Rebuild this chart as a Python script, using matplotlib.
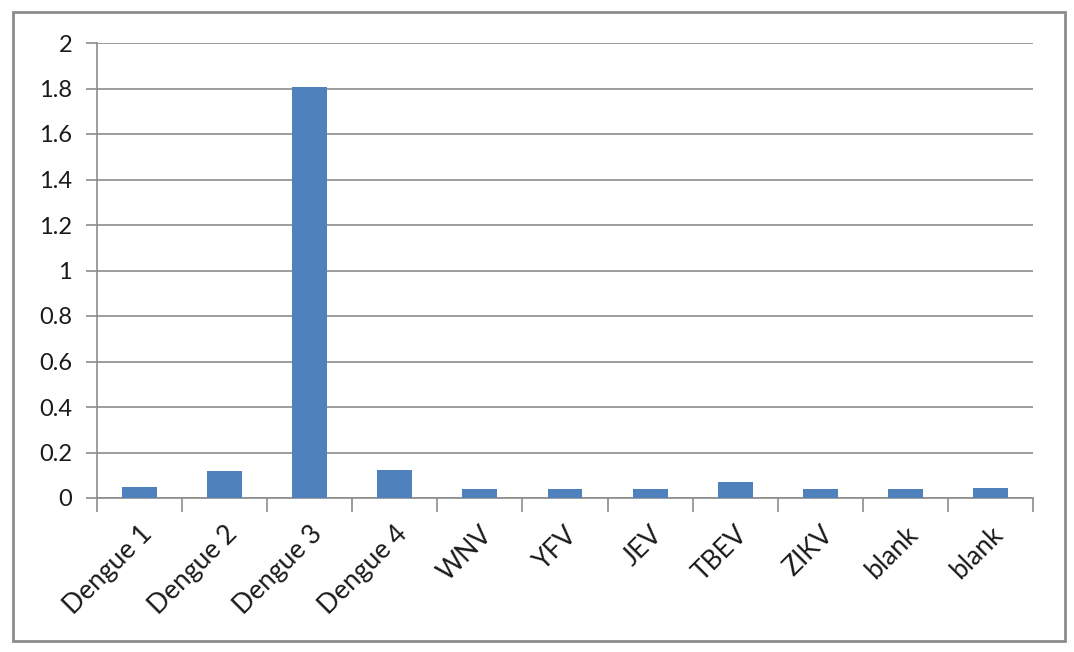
import matplotlib
matplotlib.use("Agg")
import matplotlib.pyplot as plt
from matplotlib.patches import Rectangle
from matplotlib.ticker import FixedLocator, NullFormatter

categories = ["Dengue 1", "Dengue 2", "Dengue 3", "Dengue 4", "WNV", "YFV",
              "JEV", "TBEV", "ZIKV", "blank", "blank"]
values = [0.050, 0.117, 1.805, 0.124, 0.038, 0.038, 0.038, 0.069, 0.038, 0.038, 0.044]
yticks = [0, 0.2, 0.4, 0.6, 0.8, 1, 1.2, 1.4, 1.6, 1.8, 2]
ytick_labels = ["0", "0.2", "0.4", "0.6", "0.8", "1", "1.2", "1.4", "1.6", "1.8", "2"]

plt.rcParams['font.family'] = ['Lato', 'DejaVu Sans']

W, H = 1074, 652
fig = plt.figure(figsize=(W / 100, H / 100), dpi=100)
fig.patch.set_facecolor("white")

# outer chart border
fig.patches.append(Rectangle((13 / W, 1 - 641 / H), 1052 / W, 629 / H,
                             transform=fig.transFigure, fill=False,
                             edgecolor="#8c8c8c", linewidth=2))

ax = fig.add_axes([97 / W, 1 - 498 / H, (1033 - 97) / W, (498 - 43) / H])

x = list(range(len(categories)))
ax.bar(x, values, width=0.41, color="#4f81bd", zorder=3)

ax.set_xlim(-0.5, len(categories) - 0.5)
ax.set_ylim(0, 2)
ax.set_yticks(yticks)
ax.set_yticklabels(ytick_labels, fontsize=17, color="#1a1a1a")
ax.yaxis.grid(True, color="#8c8c8c", linewidth=1.2, zorder=0)

ax.set_xticks(x)
ax.set_xticklabels(categories, rotation=45, ha="right", rotation_mode="anchor",
                   fontsize=19, color="#1a1a1a")
ax.tick_params(axis="x", which="major", length=0, pad=17)
ax.xaxis.set_minor_locator(FixedLocator([i - 0.5 for i in range(len(categories) + 1)]))
ax.xaxis.set_minor_formatter(NullFormatter())
ax.tick_params(axis="x", which="minor", length=10, width=1.2, color="#8c8c8c")
ax.tick_params(axis="y", length=8, width=1.2, color="#8c8c8c", pad=10)

for side in ["top", "right"]:
    ax.spines[side].set_visible(False)
for side in ["left", "bottom"]:
    ax.spines[side].set_color("#8c8c8c")
    ax.spines[side].set_linewidth(1.2)

fig.savefig("out.png", dpi=100, facecolor="white")
